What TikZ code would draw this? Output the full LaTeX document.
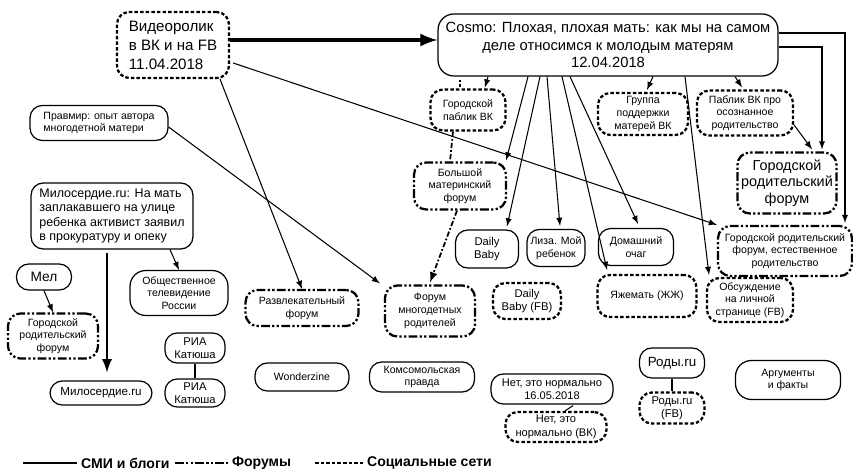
\documentclass[tikz,border=0pt]{standalone}
\usepackage{fontspec}
\setmainfont{Liberation Sans}
\usetikzlibrary{positioning}

\begin{document}
\begin{tikzpicture}[x=0.02cm,y=-0.02cm,
	smi/.style={draw,line width=0.7pt,rounded corners=7pt,align=center,inner sep=1pt,font=\fontsize{6}{7.2}\selectfont},
	forum/.style={smi,line width=1.3pt,dash pattern=on 5pt off 1.3pt on 1.3pt off 1.3pt on 1.3pt off 1.3pt},
	social/.style={smi,line width=1.3pt,dash pattern=on 2pt off 1.2pt},
	link/.style={line width=0.6pt,-latex},
	legendtext/.style={anchor=west,inner sep=1pt,font=\fontsize{8}{9}\selectfont\bfseries}]
	\useasboundingbox (0,0) rectangle (853,473);
	% Main posts %
	\node[social,minimum width=2.24cm,minimum height=1.32cm,align=left,font=\fontsize{8.6}{10.8}\selectfont] (video) at (173,45) {Видеоролик\\в ВК и на FB\\11.04.2018};
	\node[smi,minimum width=6.8cm,minimum height=1.24cm,rounded corners=9pt,font=\fontsize{8.4}{10.2}\selectfont] (cosmo) at (608,45) {Cosmo: Плохая, плохая мать: как мы на самом\\деле относимся к молодым матерям\\12.04.2018};
	% Left side %
	\node[smi,minimum width=2.76cm,minimum height=0.7cm,align=left] (pravmir) at (99,123) {Правмир: опыт автора\\многодетной матери};
	\node[smi,minimum width=3.24cm,minimum height=1.32cm,align=left,font=\fontsize{7.1}{8.3}\selectfont] (miloserdie) at (112,216) {Милосердие.ru: На мать\\заплакавшего на улице\\ребенка активист заявил\\в прокуратуру и опеку};
	\node[smi,minimum width=1.1cm,minimum height=0.52cm,font=\fontsize{7.8}{9}\selectfont] (mel) at (44,277) {Мел};
	\node[forum,minimum width=1.8cm,minimum height=0.9cm] (gorforumleft) at (53,336) {Городской\\родительский\\форум};
	\node[smi,minimum width=1.96cm,minimum height=0.9cm,rounded corners=9pt] (otv) at (179,293) {Общественное\\телевидение\\России};
	\node[smi,minimum width=2.04cm,minimum height=0.48cm,font=\fontsize{6.6}{7.8}\selectfont] (milru) at (101,393) {Милосердие.ru};
	\node[smi,minimum width=1.2cm,minimum height=0.6cm,font=\fontsize{6.4}{7.6}\selectfont] (riatop) at (195,348) {РИА\\Катюша};
	\node[smi,minimum width=1.2cm,minimum height=0.56cm,font=\fontsize{6.4}{7.6}\selectfont] (riabottom) at (195,393) {РИА\\Катюша};
	\node[forum,minimum width=2.26cm,minimum height=0.72cm] (razvl) at (302,308) {Развлекательный\\форум};
	\node[smi,minimum width=1.88cm,minimum height=0.56cm] (wonder) at (302,377) {Wonderzine};
	\node[forum,minimum width=1.8cm,minimum height=1.02cm] (mnogodet) at (430,311) {Форум\\многодетных\\родителей};
	\node[smi,minimum width=2.1cm,minimum height=0.6cm] (komsomol) at (422,377) {Комсомольская\\правда};
	% Middle %
	\node[social,minimum width=1.5cm,minimum height=0.82cm] (gorpablik) at (468,110) {Городской\\паблик ВК};
	\node[forum,minimum width=1.84cm,minimum height=0.94cm] (bolshoy) at (460,186) {Большой\\материнский\\форум};
	\node[smi,minimum width=1.26cm,minimum height=0.76cm,font=\fontsize{6.4}{7.6}\selectfont] (dailybaby) at (487,249) {Daily\\Baby};
	\node[smi,minimum width=1.16cm,minimum height=0.74cm] (liza) at (556,248) {Лиза. Мой\\ребенок};
	\node[social,minimum width=1.36cm,minimum height=0.72cm,font=\fontsize{6.4}{7.6}\selectfont] (dailyfb) at (527,301) {Daily\\Baby (FB)};
	\node[smi,minimum width=1.5cm,minimum height=0.74cm] (domash) at (636,247) {Домашний\\очаг};
	\node[social,minimum width=1.98cm,minimum height=0.84cm] (yazhemat) at (647,296) {Яжемать (ЖЖ)};
	\node[social,minimum width=1.72cm,minimum height=0.88cm] (obsuzh) at (750,300) {Обсуждение\\на личной\\странице (FB)};
	% Right side %
	\node[social,minimum width=1.8cm,minimum height=0.84cm] (gruppa) at (643,114) {Группа\\поддержки\\матерей ВК};
	\node[social,minimum width=1.92cm,minimum height=0.9cm] (pablik) at (745,113) {Паблик ВК про\\осознанное\\родительство};
	\node[forum,minimum width=1.98cm,minimum height=1.22cm,font=\fontsize{8.2}{9.2}\selectfont] (gorforumbig) at (787,183) {Городской\\родительский\\форум};
	\node[forum,minimum width=2.68cm,minimum height=1.0cm] (gorforumest) at (785,251) {Городской родительский\\форум, естественное\\родительство};
	% Bottom %
	\node[smi,minimum width=2.44cm,minimum height=0.6cm,font=\fontsize{6.3}{7.6}\selectfont] (net) at (552,389) {Нет, это нормально\\16.05.2018};
	\node[social,minimum width=2.02cm,minimum height=0.6cm,font=\fontsize{6.3}{7.6}\selectfont] (netvk) at (556,427) {Нет, это\\нормально (ВК)};
	\node[smi,minimum width=1.3cm,minimum height=0.6cm,font=\fontsize{7.6}{9}\selectfont] (rody) at (672,363) {Роды.ru};
	\node[social,minimum width=1.3cm,minimum height=0.62cm,font=\fontsize{6.4}{7.6}\selectfont] (rodyfb) at (672,408) {Роды.ru\\(FB)};
	\node[smi,minimum width=2.1cm,minimum height=0.78cm,rounded corners=9pt] (argum) at (788,380) {Аргументы\\и факты};
	% Links from the video %
	\draw [line width=2.3pt,-latex] ([shift={(0,-5)}]video.east) -- ([shift={(0,-5)}]cosmo.west);
	\draw [link] ([shift={(3,18)}]video.east) -- (gorforumest.north west);
	\draw [link] ([shift={(47,0)}]video.south) -- (razvl.north);
	% Links on the left %
	\draw [link] ([shift={(0,4)}]pravmir.east) -- ([shift={(-4,-1)}]mnogodet.north west);
	\draw [link] ([shift={(58,0)}]miloserdie.south) -- (otv.north);
	\draw [line width=1.6pt,-latex] ([shift={(-5,3)}]miloserdie.south) -- ([shift={(6,-8)}]milru.north);
	\draw [link] (mel.south) -- (gorforumleft.north);
	\draw [line width=1.6pt] (riatop) -- (riabottom);
	% Links from Cosmo %
	\draw [line width=1pt,dash pattern=on 1.5pt off 1pt] ([shift={(-148,3)}]cosmo.south) -- ([shift={(-8,0)}]gorpablik.north);
	\draw [link] ([shift={(-120,0)}]cosmo.south) -- ([shift={(17,-1)}]gorpablik.north);
	\draw [line width=1pt,dash pattern=on 3pt off 1.2pt on 1pt off 1.2pt] ([shift={(-15,0)}]gorpablik.south) -- ([shift={(-10,0)}]bolshoy.north);
	\draw [line width=1pt,dash pattern=on 3pt off 1.2pt on 1pt off 1.2pt,-latex] ([shift={(-3,0)}]bolshoy.south) -- ([shift={(0,-2)}]mnogodet.north);
	\draw [link] ([shift={(-80,0)}]cosmo.south) -- ([shift={(-1,-1)}]bolshoy.north east);
	\draw [link] ([shift={(-68,0)}]cosmo.south) -- ([shift={(20,-3)}]dailybaby.north);
	\draw [link] ([shift={(-61,0)}]cosmo.south) -- ([shift={(4,-3)}]liza.north);
	\draw [link] ([shift={(-46,0)}]cosmo.south) -- ([shift={(-40,-4)}]yazhemat.north);
	\draw [link] ([shift={(-38,0)}]cosmo.south) -- ([shift={(2,-4)}]domash.north);
	\draw [link] ([shift={(45,0)}]cosmo.south) -- ([shift={(4,-2)}]gruppa.north);
	\draw [link] ([shift={(77,0)}]cosmo.south) -- ([shift={(-41,-2)}]obsuzh.north);
	\draw [link] ([shift={(127,0)}]cosmo.south) -- ([shift={(-3,-2)}]pablik.north);
	\draw [link] ([shift={(0,12)}]pablik.east) -- ([shift={(25,-2)}]gorforumbig.north);
	\draw [link] ([shift={(0,2)}]cosmo.east) -| ([shift={(35,-2)}]gorforumbig.north);
	\draw [link] ([shift={(0,-12)}]cosmo.east) -| ([shift={(60,-2)}]gorforumest.north);
	% Other links %
	\draw [line width=0.6pt] ([shift={(21,1)}]net.south) -- ([shift={(9,0)}]netvk.north);
	\draw [line width=0.7pt] (rody) -- (rodyfb);
	% Legend %
	\coordinate (smia) at (23,463);
	\coordinate (smib) at (77,463);
	\coordinate (foruma) at (175,463);
	\coordinate (forumb) at (228,463);
	\coordinate (sociala) at (315,463);
	\coordinate (socialb) at (364,463);
	\draw [line width=0.7pt] (smia) -- (smib);
	\node [legendtext] (smilabel) at (79,463) {СМИ и блоги};
	\draw [line width=1.3pt,dash pattern=on 5pt off 1.3pt on 1.3pt off 1.3pt on 1.3pt off 1.3pt] (foruma) -- (forumb);
	\node [legendtext] (forumlabel) at (230,463) {Форумы};
	\draw [line width=1.3pt,dash pattern=on 2pt off 1.2pt] (sociala) -- (socialb);
	\node [legendtext] (sociallabel) at (365,463) {Социальные сети};
\end{tikzpicture}
\end{document}
